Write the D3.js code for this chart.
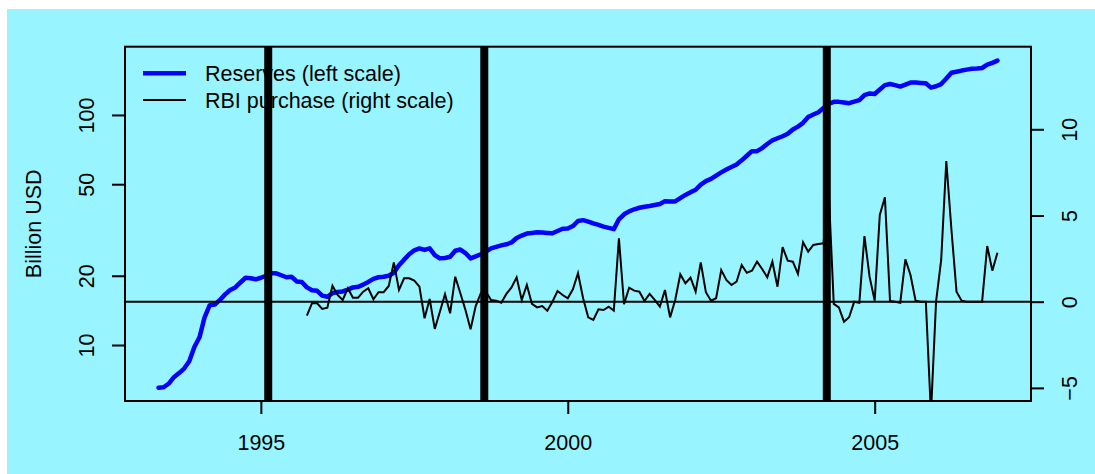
<!DOCTYPE html>
<html>
<head>
<meta charset="utf-8">
<script src="https://cdn.jsdelivr.net/npm/d3@7"></script>
<style>
  html, body { margin: 0; padding: 0; background: #ffffff; }
  svg { display: block; }
  text { font-family: "Liberation Sans", Arial, sans-serif; fill: #000; }
</style>
</head>
<body>
<svg id="chart" width="1095" height="474"></svg>
<script>
// ---------------- DATA ----------------
// Monthly foreign exchange reserves, billion USD (May 1993 .. Jan 2007)
const reservesStart = [1993, 5];
const reserves = [
  6.52,6.55,6.8,7.25,7.55,7.9,8.5,9.8,10.8,13.2,
  14.9,15.0,15.7,16.6,17.35,17.8,18.7,19.6,19.5,19.3,
  19.6,20.0,20.5,20.5,20.1,19.7,19.8,18.9,18.8,17.8,
  17.3,17.2,16.4,16.2,16.8,17.0,17.1,17.4,17.8,17.9,
  18.3,18.8,19.4,19.7,19.8,20.0,20.6,22.2,23.5,24.8,
  25.8,26.3,25.9,26.3,24.6,23.8,23.9,24.2,25.7,26.0,
  25.1,23.8,24.3,24.8,25.5,26.3,26.7,27.1,27.4,27.9,
  29.2,29.9,30.5,30.7,30.9,30.8,30.7,30.6,31.3,32.0,
  32.1,32.9,34.6,34.9,34.4,33.8,33.3,32.7,32.3,31.9,
  35.2,37.0,38.1,38.9,39.5,39.9,40.2,40.6,41.0,42.2,
  42.1,42.1,43.5,44.9,46.1,47.3,49.8,51.6,52.7,54.5,
  56.3,57.9,59.4,60.9,63.5,66.5,69.6,69.6,71.8,74.8,
  77.6,79.2,80.8,82.8,86.4,89.0,92.4,98.0,100.5,102.7,
  107.2,111.6,114.0,114.0,113.3,112.5,114.2,116.0,122.0,124.0,
  123.4,129.0,134.8,136.4,134.8,132.8,135.5,138.3,138.3,137.8,
  137.4,131.5,133.2,136.2,143.9,152.5,154.2,155.9,157.4,158.9,
  159.2,160.0,165.4,168.5,172.3
];
// Monthly RBI net purchase, billion USD (Oct 1995 .. Jan 2007)
const rbiStart = [1995, 10];
const rbiPurchase = [
  -0.81,-0.09,-0.09,-0.42,-0.35,0.93,0.39,0.1,0.78,0.23,
  0.23,0.58,0.78,0.14,0.55,0.55,0.91,2.28,0.68,1.36,
  1.36,1.22,0.87,-0.96,0.16,-1.58,-0.58,0.43,-0.67,1.45,
  0.49,-0.48,-1.6,-0.25,0.49,0.58,0.1,0.06,-0.06,0.45,
  0.83,1.41,0.1,0.97,-0.13,-0.33,-0.25,-0.52,0.0,0.62,
  0.39,0.2,0.72,1.65,0.2,-0.91,-1.06,-0.44,-0.48,-0.29,
  -0.52,3.68,-0.15,0.81,0.64,0.58,0.04,0.45,0.1,-0.29,
  0.68,-0.91,0.1,1.59,1.07,1.39,0.58,2.28,0.55,0.06,
  0.2,1.84,1.26,0.97,1.16,2.13,1.68,1.8,2.32,1.9,
  1.41,2.32,0.87,3.16,2.38,2.32,1.61,3.45,2.9,3.29,
  3.35,3.39,6.5,-0.13,-0.33,-1.16,-0.9,0,-0.06,3.81,
  1.45,0.06,5.03,6.06,0.04,0,-0.06,2.46,1.55,0.06,
  0,0,-6.5,0,2.42,8.16,4.2,0.58,0.06,0,
  0,0,0,3.23,1.8,2.84
];
// Event dates (vertical bars), decimal years
const eventDates = [1995.12, 1998.64, 2004.22];
// Tick values
const xTicks = [1995, 2000, 2005];
const leftTicks = [10, 20, 50, 100];
const rightTicks = [-5, 0, 5, 10];
const legendLabels = ["Reserves (left scale)", "RBI purchase (right scale)"];
const yLabel = "Billion USD";

// ---------------- LAYOUT ----------------
const W = 1095, H = 474;
const P = { left: 125, right: 1031, top: 46.7, bottom: 401 };
const FS = 21.5;

function monthSeries(start, vals) {
  return vals.map((v, i) => ({ t: start[0] + (start[1] - 1 + i) / 12, v }));
}
const resData = monthSeries(reservesStart, reserves);
const rbiData = monthSeries(rbiStart, rbiPurchase);

// R-style 4% padded x range
const tMin = resData[0].t, tMax = resData[resData.length - 1].t;
const pad = (tMax - tMin) * 0.04;
const x = d3.scaleLinear().domain([tMin - pad, tMax + pad]).range([P.left, P.right]);
const yL = d3.scaleLog().domain([5.71, 198]).range([P.bottom, P.top]);
const yR = d3.scaleLinear().domain([-5.76, 14.79]).range([P.bottom, P.top]);

const svg = d3.select("#chart");
svg.append("rect").attr("x", 7).attr("y", 9).attr("width", W - 7).attr("height", H - 9)
  .attr("fill", "#98F5FF");

svg.append("clipPath").attr("id", "clip").append("rect")
  .attr("x", P.left).attr("y", P.top).attr("width", P.right - P.left).attr("height", P.bottom - P.top);

const plotG = svg.append("g").attr("clip-path", "url(#clip)");

// Reserves line
plotG.append("path").datum(resData)
  .attr("fill", "none").attr("stroke", "#0000FF").attr("stroke-width", 4.5)
  .attr("stroke-linejoin", "round").attr("stroke-linecap", "round")
  .attr("d", d3.line().x(d => x(d.t)).y(d => yL(d.v)));

// Legend
const leg = svg.append("g");
const legY = [73.3, 100];
leg.append("line").attr("x1", 143).attr("x2", 186).attr("y1", legY[0]).attr("y2", legY[0])
  .attr("stroke", "#0000FF").attr("stroke-width", 4.5);
leg.append("line").attr("x1", 143).attr("x2", 186).attr("y1", legY[1]).attr("y2", legY[1])
  .attr("stroke", "#000").attr("stroke-width", 2);
legendLabels.forEach((lab, i) => {
  leg.append("text").attr("x", 205).attr("y", legY[i] + 7.5)
    .attr("font-size", FS).text(lab);
});

// RBI purchase line
plotG.append("path").datum(rbiData)
  .attr("fill", "none").attr("stroke", "#000").attr("stroke-width", 2)
  .attr("stroke-linejoin", "miter")
  .attr("d", d3.line().x(d => x(d.t)).y(d => yR(d.v)));

// zero line
plotG.append("line").attr("x1", P.left).attr("x2", P.right)
  .attr("y1", yR(0)).attr("y2", yR(0)).attr("stroke", "#000").attr("stroke-width", 2);

// event lines
plotG.selectAll("line.ev").data(eventDates).enter().append("line")
  .attr("class", "ev")
  .attr("x1", d => x(d)).attr("x2", d => x(d))
  .attr("y1", P.top).attr("y2", P.bottom)
  .attr("stroke", "#000").attr("stroke-width", 8);

// box
svg.append("rect").attr("x", P.left).attr("y", P.top)
  .attr("width", P.right - P.left).attr("height", P.bottom - P.top)
  .attr("fill", "none").attr("stroke", "#000").attr("stroke-width", 2);

// Axes
const xAxis = svg.append("g").attr("transform", `translate(0,${P.bottom})`)
  .call(d3.axisBottom(x).tickValues(xTicks).tickSize(13).tickFormat(d3.format("d")));
const lAxis = svg.append("g").attr("transform", `translate(${P.left},0)`)
  .call(d3.axisLeft(yL).tickValues(leftTicks).tickSize(13).tickFormat(d3.format("d")));
const rAxis = svg.append("g").attr("transform", `translate(${P.right},0)`)
  .call(d3.axisRight(yR).tickValues(rightTicks).tickSize(13).tickFormat(d => d < 0 ? "\u2212" + Math.abs(d) : d));

[xAxis, lAxis, rAxis].forEach(a => {
  a.select(".domain").remove();
  a.selectAll(".tick line").attr("stroke", "#000").attr("stroke-width", 2);
  a.selectAll(".tick text").attr("font-family", null).attr("font-size", FS).attr("fill", "#000");
});
xAxis.selectAll(".tick text").attr("y", 49).attr("dy", 0);
lAxis.selectAll(".tick text").attr("x", 0).attr("y", 0).attr("dy", 0)
  .attr("text-anchor", "middle").attr("transform", "translate(-31.5,0) rotate(-90)");
rAxis.selectAll(".tick text").attr("x", 0).attr("y", 0).attr("dy", 0)
  .attr("text-anchor", "middle").attr("transform", "translate(46,0) rotate(-90)");
svg.selectAll(".tick text").style("font-family", '"Liberation Sans", Arial, sans-serif');

// y label
svg.append("text").attr("font-size", FS).attr("text-anchor", "middle")
  .attr("transform", `translate(41,${(P.top + P.bottom) / 2}) rotate(-90)`)
  .text(yLabel);
</script>
</body>
</html>
